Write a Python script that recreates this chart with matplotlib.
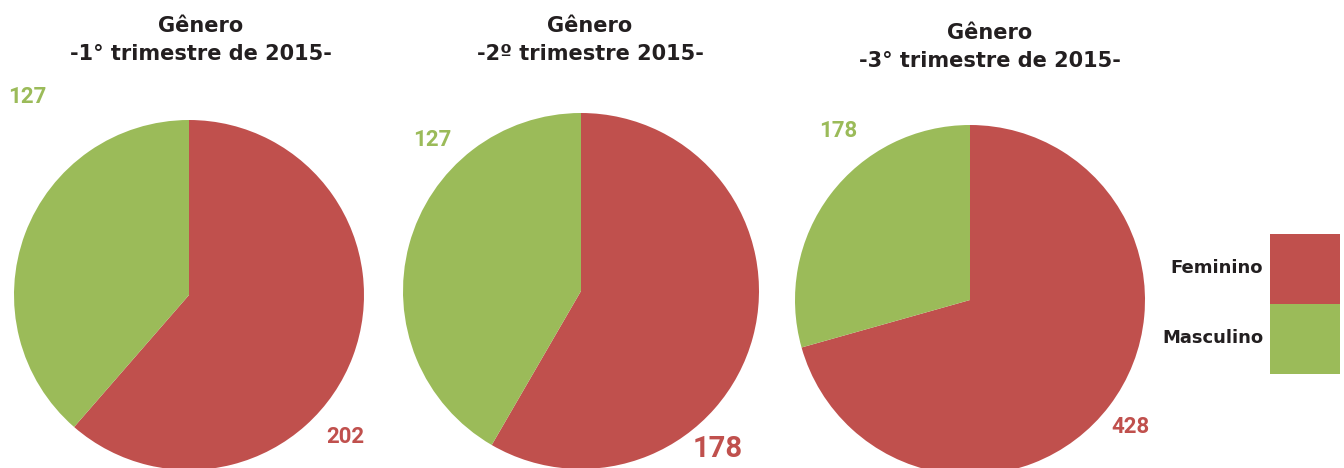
import matplotlib
matplotlib.use("Agg")
import matplotlib.pyplot as plt
from matplotlib.patches import Rectangle

# data
categories = ["Feminino", "Masculino"]
colors = ["#C0504D", "#9BBB59"]
titles = ["Gênero\n-1° trimestre de 2015-",
          "Gênero\n-2º trimestre 2015-",
          "Gênero\n-3° trimestre de 2015-"]
feminino = [202, 178, 428]
masculino = [127, 127, 178]

W, H = 1344, 468
plt.rcParams['font.family'] = ['Roboto', 'DejaVu Sans']
fig = plt.figure(figsize=(W / 100, H / 100), dpi=100)

def fx(px):
    return px / W

def fy(py):
    return 1 - py / H

# pie centre and radius in pixels, title position, label positions
pies = [
    dict(cx=189, cy=295, r=175, tx=201, ty=40,
         flab=(345, 437, 16), mlab=(27, 97, 16)),
    dict(cx=581, cy=291, r=178, tx=590, ty=40,
         flab=(718, 449, 21), mlab=(432, 140, 16)),
    dict(cx=970, cy=300, r=175, tx=990, ty=47,
         flab=(1130, 427, 16), mlab=(838, 131, 16)),
]

for i, p in enumerate(pies):
    ax = fig.add_axes([fx(p['cx'] - p['r']), fy(p['cy'] + p['r']),
                       2 * p['r'] / W, 2 * p['r'] / H])
    ax.pie([feminino[i], masculino[i]], colors=colors, startangle=90,
           counterclock=False, radius=1,
           wedgeprops=dict(linewidth=0))
    ax.set_xlim(-1, 1)
    ax.set_ylim(-1, 1)
    ax.axis('off')

    fig.text(fx(p['tx']), fy(p['ty']), titles[i], ha='center', va='center',
             fontsize=15, fontweight='bold', color='#231F20',
             linespacing=1.45, family='DejaVu Sans')
    x, y, s = p['flab']
    fig.text(fx(x), fy(y), str(feminino[i]), ha='center', va='center',
             fontsize=s, fontweight='bold', color=colors[0])
    x, y, s = p['mlab']
    fig.text(fx(x), fy(y), str(masculino[i]), ha='center', va='center',
             fontsize=s, fontweight='bold', color=colors[1])

# legend drawn as two stacked boxes
box_top = [234, 304]
for lab, col, top in zip(categories, colors, box_top):
    fig.add_artist(Rectangle((fx(1270), fy(top + 70)), 70 / W, 70 / H,
                             transform=fig.transFigure, color=col, lw=0))
    fig.text(fx(1263), fy(top + 34), lab, ha='right', va='center',
             fontsize=13, fontweight='bold', color='#231F20',
             family='DejaVu Sans')

fig.savefig("out.png", dpi=100)
